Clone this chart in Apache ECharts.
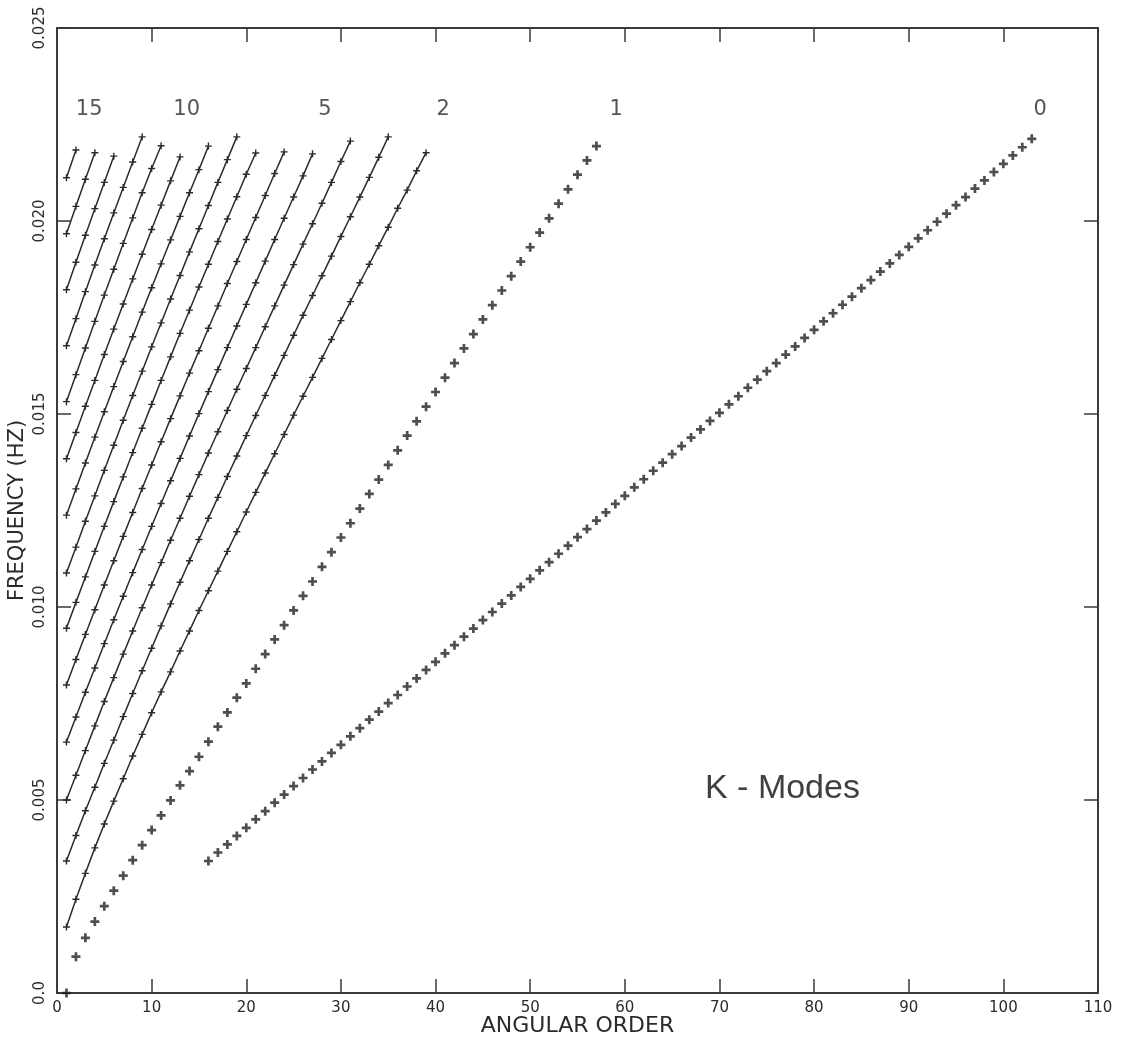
<!DOCTYPE html>
<html>
<head>
<meta charset="utf-8">
<script src="https://cdn.jsdelivr.net/npm/echarts@6/dist/echarts.min.js"></script>
<style>html,body{margin:0;padding:0;background:#fff;}#c{width:1125px;height:1044px;}</style>
</head>
<body>
<div id="c"></div>
<script>
// ---- data (frequency in Hz vs angular order) ----
const xTicks = [0, 110, 10];            // min, max, interval of angular order axis
const yTicks = [0, 0.025, 0.005];       // min, max, interval of frequency axis

const firstOrder = [16, 1, 1, 1, 1, 1, 1, 1, 1, 1, 1, 1, 1, 1, 1, 1]; // first angular order of modes 0..15

const mode0 = [0.00342,0.00364,0.00385,0.00407,0.00428,0.0045,0.00471,0.00493,0.00514,0.00536,0.00557,0.00579,0.006,0.00622,0.00643,0.00665,0.00686,0.00708,0.00729,0.00751,0.00772,0.00794,0.00815,0.00837,0.00858,0.0088,0.00901,0.00923,0.00944,0.00966,0.00987,0.01009,0.0103,0.01052,0.01073,0.01095,0.01116,0.01138,0.01159,0.01181,0.01202,0.01224,0.01245,0.01267,0.01288,0.0131,0.01331,0.01353,0.01374,0.01396,0.01417,0.01439,0.0146,0.01482,0.01503,0.01525,0.01546,0.01568,0.01589,0.01611,0.01632,0.01654,0.01675,0.01697,0.01718,0.0174,0.01761,0.01783,0.01804,0.01826,0.01847,0.01869,0.0189,0.01912,0.01933,0.01955,0.01976,0.01998,0.02019,0.02041,0.02062,0.02084,0.02105,0.02127,0.02148,0.0217,0.02191,0.02213];
const mode1 = [0.0,0.00094,0.00143,0.00185,0.00225,0.00265,0.00304,0.00344,0.00383,0.00422,0.0046,0.00499,0.00538,0.00575,0.00612,0.00651,0.0069,0.00727,0.00765,0.00802,0.0084,0.00878,0.00916,0.00953,0.00991,0.01029,0.01066,0.01104,0.01142,0.0118,0.01217,0.01255,0.01293,0.0133,0.01368,0.01406,0.01444,0.01481,0.01519,0.01557,0.01594,0.01632,0.0167,0.01707,0.01745,0.01782,0.0182,0.01857,0.01895,0.01932,0.0197,0.02007,0.02045,0.02082,0.0212,0.02157,0.02194];
const mode2 = [0.00171,0.00243,0.0031,0.00376,0.00438,0.00497,0.00555,0.00614,0.0067,0.00726,0.0078,0.00832,0.00886,0.00938,0.00991,0.01042,0.01093,0.01144,0.01195,0.01246,0.01297,0.01347,0.01397,0.01447,0.01497,0.01546,0.01595,0.01644,0.01693,0.01742,0.01791,0.0184,0.01888,0.01936,0.01984,0.02033,0.0208,0.0213,0.02177];
const mode3 = [0.00342,0.00408,0.00472,0.00533,0.00595,0.00655,0.00716,0.00776,0.00835,0.00893,0.00951,0.01008,0.01064,0.0112,0.01175,0.0123,0.01284,0.01338,0.01391,0.01444,0.01496,0.01548,0.016,0.01652,0.01704,0.01756,0.01807,0.01858,0.01909,0.0196,0.02011,0.02062,0.02113,0.02165,0.02218];
const mode4 = [0.005,0.00564,0.00628,0.00692,0.00755,0.00817,0.00878,0.00938,0.00998,0.01057,0.01115,0.01173,0.0123,0.01287,0.01343,0.01399,0.01454,0.01509,0.01564,0.01618,0.01672,0.01726,0.0178,0.01834,0.01887,0.0194,0.01993,0.02046,0.021,0.02154,0.02207];
const mode5 = [0.0065,0.00715,0.00779,0.00842,0.00905,0.00967,0.01028,0.01089,0.01149,0.01209,0.01268,0.01327,0.01385,0.01443,0.01501,0.01558,0.01615,0.01672,0.01728,0.01784,0.0184,0.01896,0.01952,0.02007,0.02062,0.02117,0.02174];
const mode6 = [0.00798,0.00864,0.00929,0.00993,0.01057,0.0112,0.01183,0.01245,0.01307,0.01368,0.01428,0.01488,0.01547,0.01606,0.01664,0.01722,0.0178,0.01838,0.01895,0.01952,0.02009,0.02066,0.02123,0.02179];
const mode7 = [0.00945,0.01012,0.01078,0.01144,0.01209,0.01273,0.01337,0.014,0.01463,0.01525,0.01587,0.01648,0.01709,0.01769,0.01829,0.01888,0.01947,0.02005,0.02063,0.02121,0.02176];
const mode8 = [0.01088,0.01155,0.01222,0.01288,0.01354,0.01419,0.01484,0.01548,0.01611,0.01674,0.01736,0.01798,0.01859,0.0192,0.0198,0.0204,0.021,0.02159,0.02218];
const mode9 = [0.01238,0.01306,0.01373,0.0144,0.01506,0.01571,0.01636,0.017,0.01764,0.01827,0.01889,0.01951,0.02012,0.02073,0.02133,0.02194];
const mode10 = [0.01384,0.01452,0.0152,0.01587,0.01654,0.0172,0.01785,0.0185,0.01914,0.01978,0.02041,0.02104,0.02166];
const mode11 = [0.01532,0.01602,0.01671,0.0174,0.01808,0.01875,0.01942,0.02008,0.02073,0.02136,0.02195];
const mode12 = [0.01677,0.01747,0.01817,0.01886,0.01954,0.02021,0.02087,0.02153,0.02218];
const mode13 = [0.01822,0.01893,0.01963,0.02032,0.021,0.02168];
const mode14 = [0.01967,0.02038,0.02108,0.02177];
const mode15 = [0.02112,0.02184];

const modeLabelText  = ['15', '10', '5', '2', '1', '0'];
const modeLabelOrder = [3.4, 13.7, 28.3, 40.8, 59.1, 103.9];
const modeLabelFreq  = [0.0229, 0.0229, 0.0229, 0.0229, 0.0229, 0.0229];

const annotationText = 'K - Modes';

// ---- build ----
const modes = [mode0, mode1, mode2, mode3, mode4, mode5, mode6, mode7, mode8, mode9, mode10, mode11, mode12, mode13, mode14, mode15];
const INK = '#2b2b2b';
const boldPlus = 'path://M3.5,0h3v3.5h3.5v3h-3.5v3.5h-3v-3.5h-3.5v-3h3.5z';
const thinPlus = 'path://M4,0h2v4h4v2h-4v4h-2v-4h-4v-2h4z';
const fontFam = '"DejaVu Sans", sans-serif';

const series = modes.map((vals, n) => {
  const data = vals.map((f, i) => [firstOrder[n] + i, f]);
  if (n <= 1) {
    return {
      type: 'scatter', name: 'mode ' + n, data: data,
      symbol: boldPlus, symbolSize: 9,
      itemStyle: { color: '#222222' }, silent: true
    };
  }
  return {
    type: 'line', name: 'mode ' + n, data: data,
    symbol: thinPlus, symbolSize: 7, showSymbol: true,
    lineStyle: { color: INK, width: 1.5 },
    itemStyle: { color: INK },
    silent: true
  };
});

series.push({
  type: 'scatter', name: 'labels',
  data: modeLabelText.map((t, i) => ({ name: t, value: [modeLabelOrder[i], modeLabelFreq[i]] })),
  symbolSize: 20,
  itemStyle: { color: 'rgba(0,0,0,0)' },
  label: { show: true, position: 'inside', formatter: p => p.name, color: INK, fontSize: 21, fontFamily: fontFam },
  silent: true
});

const axisLineStyle = { color: '#3a3a3a', width: 2 };
const tickStyle = { show: true, inside: true, length: 14, lineStyle: { color: '#3a3a3a', width: 1.5 } };
const chart = echarts.init(document.getElementById('c'), null, { renderer: 'canvas' });
chart.setOption({
  animation: false,
  backgroundColor: '#ffffff',
  grid: { left: 57, right: 27, top: 28, bottom: 51, containLabel: false, outerBoundsMode: 'none' },
  xAxis: [
    {
      type: 'value', min: xTicks[0], max: xTicks[1], interval: xTicks[2], position: 'bottom',
      name: 'ANGULAR ORDER', nameLocation: 'middle', nameGap: 22, nameMoveOverlap: false,
      nameTextStyle: { color: INK, fontSize: 22, fontFamily: fontFam, verticalAlign: 'top' },
      axisLine: { show: true, onZero: false, lineStyle: axisLineStyle },
      axisTick: tickStyle,
      axisLabel: { color: INK, fontSize: 15, margin: 8, fontFamily: fontFam },
      splitLine: { show: false }
    },
    {
      type: 'value', min: xTicks[0], max: xTicks[1], interval: xTicks[2], position: 'top',
      axisLine: { show: true, onZero: false, lineStyle: axisLineStyle },
      axisTick: tickStyle,
      axisLabel: { show: false }, splitLine: { show: false }
    }
  ],
  yAxis: [
    {
      type: 'value', min: yTicks[0], max: yTicks[1], interval: yTicks[2], position: 'left',
      name: 'FREQUENCY (HZ)', nameLocation: 'middle', nameGap: 29, nameMoveOverlap: false,
      nameTextStyle: { color: INK, fontSize: 21, fontFamily: fontFam },
      axisLine: { show: true, onZero: false, lineStyle: axisLineStyle },
      axisTick: tickStyle,
      axisLabel: { color: INK, fontSize: 15, rotate: 90, margin: 9, fontFamily: fontFam,
        formatter: v => (v === 0 ? '0.0' : v.toFixed(3)) },
      splitLine: { show: false }
    },
    {
      type: 'value', min: yTicks[0], max: yTicks[1], interval: yTicks[2], position: 'right',
      axisLine: { show: true, onZero: false, lineStyle: axisLineStyle },
      axisTick: tickStyle,
      axisLabel: { show: false }, splitLine: { show: false }
    }
  ],
  graphic: [
    { type: 'text', left: 705, top: 772,
      style: { text: annotationText, font: '34px "Liberation Sans", Arial, sans-serif', fill: '#404040' } }
  ],
  series: series
});
</script>
</body>
</html>
